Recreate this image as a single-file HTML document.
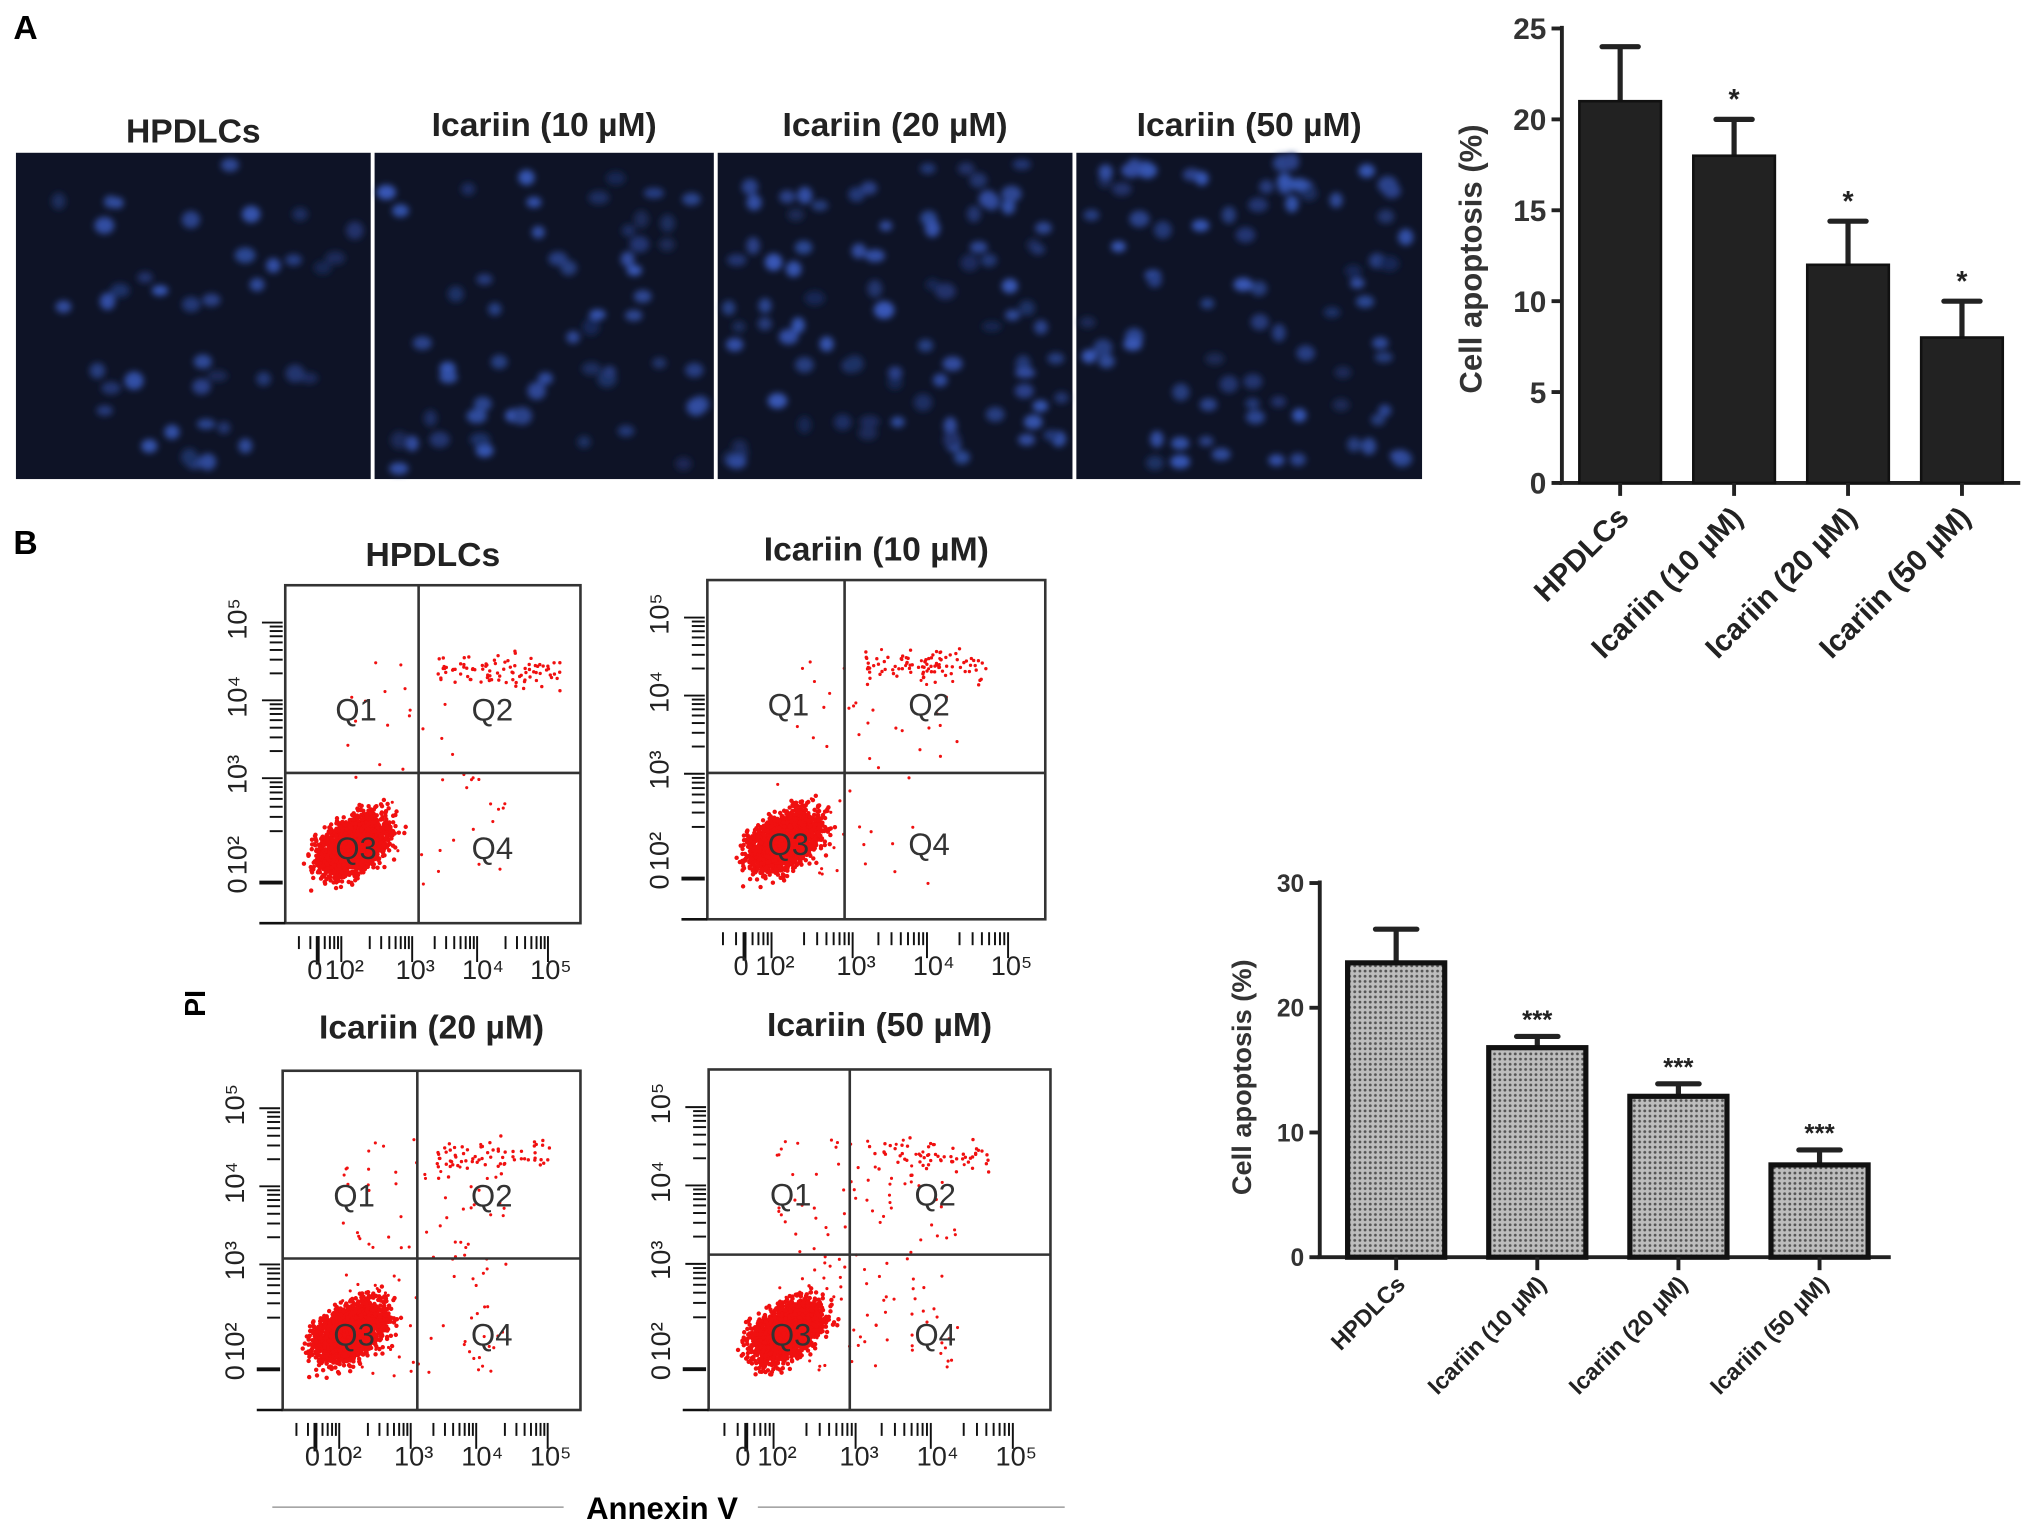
<!DOCTYPE html>
<html><head><meta charset="utf-8"><style>
html,body{margin:0;padding:0;background:#fff}
svg{display:block}
text{font-family:"Liberation Sans",Arial,sans-serif}
</style></head><body>
<svg id="fig" width="2031" height="1533" viewBox="0 0 1568 1184" xmlns="http://www.w3.org/2000/svg">
<defs>
<pattern id="dots" width="4" height="4" patternUnits="userSpaceOnUse"><rect width="4" height="4" fill="#bdbdbd"/><circle cx="2" cy="2" r="1.1" fill="#555"/></pattern>
<filter id="blur"><feGaussianBlur stdDeviation="2.4"/></filter>
</defs>
<text x="10" y="30" font-size="26" font-weight="bold">A</text>
<text x="10" y="428" font-size="26" font-weight="bold">B</text>
<g id="micro"></g>
<g id="chartA"></g>
<g id="flow"></g>
<g id="chartB"></g>
<text x="158" y="775" font-size="22" font-weight="bold" transform="rotate(-90 158 775)" text-anchor="middle">PI</text>
<line x1="210" y1="1164" x2="435" y2="1164" stroke="#888" stroke-width="1"/>
<line x1="585" y1="1164" x2="822" y2="1164" stroke="#888" stroke-width="1"/>
<text x="511" y="1173" font-size="24" font-weight="bold" text-anchor="middle">Annexin V</text>
</svg>
<script>
const NS="http://www.w3.org/2000/svg";
function mk(p,t,a){const e=document.createElementNS(NS,t);for(const k in a)e.setAttribute(k,a[k]);p.appendChild(e);return e;}
let seed=12345;function rnd(){seed=(seed*1103515245+12345)%2147483648;return seed/2147483648;}
function gauss(){return (rnd()+rnd()+rnd()+rnd()-2)/1.2;}

// Chart A data
const catsA=["HPDLCs","Icariin (10 µM)","Icariin (20 µM)","Icariin (50 µM)"];
const valsA=[21,18,12,8];
const errA=[3,2,2.4,2];
const starsA=["","*","*","*"];
const ticksA=[0,5,10,15,20,25];
// Chart B data
const catsB=["HPDLCs","Icariin (10 µM)","Icariin (20 µM)","Icariin (50 µM)"];
const valsB=[23.6,16.8,12.9,7.4];
const errB=[2.7,0.9,1.0,1.2];
const starsB=["","***","***","***"];
const ticksB=[0,10,20,30];

// Microscopy
const micro=document.getElementById('micro');
const mTitles=["HPDLCs","Icariin (10 µM)","Icariin (20 µM)","Icariin (50 µM)"];
const mX=[[12,286],[289,551],[554,828],[831,1098]];
const mCounts=[40,55,85,80];
mX.forEach((r,i)=>{
  const g=mk(micro,'g',{});
  
  
  mk(g,'rect',{x:r[0],y:118,width:r[1]-r[0],height:252,fill:'#0e1326'});
  const dg=mk(g,'g',{filter:'url(#blur)'});
  for(let k=0;k<mCounts[i];k++){
    const cx=r[0]+8+rnd()*(r[1]-r[0]-16), cy=124+rnd()*240;
    const b=0.35+rnd()*0.45;
    mk(dg,'ellipse',{cx:cx,cy:cy,rx:5+rnd()*3,ry:4+rnd()*3,fill:`rgb(${Math.round(70*b)},${Math.round(110*b)},${Math.round(230*b)})`});
  }
  const t=mk(g,'text',{x:(r[0]+r[1])/2,y:i==0?110:105,'font-size':26,'font-weight':'bold','text-anchor':'middle',fill:'#222'});
  t.textContent=mTitles[i];
});

function barChart(gid,cats,vals,errs,stars,ticks,o){
  const g=document.getElementById(gid);
  const y=v=>o.y0-(v-ticks[0])/(ticks[ticks.length-1]-ticks[0])*(o.y0-o.y1);
  const x=i=>o.xs+i*o.step;
  mk(g,'line',{x1:o.ax,y1:o.y1-2,x2:o.ax,y2:o.y0,stroke:'#222','stroke-width':3});
  mk(g,'line',{x1:o.ax-2,y1:o.y0,x2:o.xe,y2:o.y0,stroke:'#222','stroke-width':3});
  ticks.forEach(t=>{
    const l=mk(g,'line',{x1:o.ax-8,y1:y(t),x2:o.ax,y2:y(t),stroke:'#222','stroke-width':3});
    
    
    const tx=mk(g,'text',{x:o.ax-12,y:y(t)+o.fs*0.36,'font-size':o.fs,'font-weight':'bold','text-anchor':'end',fill:'#333'});
    
    
    tx.textContent=t;
  });
  cats.forEach((c,i)=>{
    const cx=x(i);
    const eb=mk(g,'path',{d:`M${cx} ${y(vals[i])}V${y(vals[i]+errs[i])}M${cx-o.cap} ${y(vals[i]+errs[i])}H${cx+o.cap}`,stroke:'#222','stroke-width':4,fill:'none','stroke-linecap':'round'});
    
    
    const b=mk(g,'rect',{x:cx-o.bw/2,y:y(vals[i]),width:o.bw,height:o.y0-y(vals[i]),fill:o.fill,stroke:'#111','stroke-width':o.sw});
    
    
    mk(g,'line',{x1:cx,y1:o.y0,x2:cx,y2:o.y0+10,stroke:'#222','stroke-width':3});
    if(stars[i]){
      const s=mk(g,'text',{x:cx,y:y(vals[i]+errs[i])-o.starOff,'font-size':o.starFs,'font-weight':'bold','text-anchor':'middle',fill:'#222'});
      
      
      s.textContent=stars[i];
    }
    const lx=cx+o.lblDx, ly=o.y0+o.lblDy;
    const t=mk(g,'text',{x:lx,y:ly,'font-size':o.lfs,'font-weight':'bold','text-anchor':'end',fill:'#222',transform:`rotate(-45 ${lx} ${ly})`});
    
    
    t.textContent=c;
  });
  const tt=mk(g,'text',{x:o.tx,y:o.ty,'font-size':o.tfs,'font-weight':'bold','text-anchor':'middle',fill:'#333',transform:`rotate(-90 ${o.tx} ${o.ty})`});
  
  
  tt.textContent="Cell apoptosis (%)";
}
barChart('chartA',catsA,valsA,errA,starsA,ticksA,{ax:1206,y0:373,y1:22,xs:1251,step:88,xe:1560,bw:63,cap:14,fill:'#222',sw:2,fs:23,lfs:23,starFs:22,starOff:8,lblDx:8,lblDy:28,tx:1144,ty:200,tfs:24});
barChart('chartB',catsB,valsB,errB,starsB,ticksB,{ax:1019,y0:971,y1:682,xs:1078,step:109,xe:1460,bw:75,cap:16,fill:'url(#dots)',sw:4,fs:19,lfs:18,starFs:20,starOff:6,lblDx:8,lblDy:22,tx:966,ty:832,tfs:21});

// Flow panels
const flow=document.getElementById('flow');
const fp=[
 {t:"HPDLCs",x0:220,x1:448,y0:452,y1:713,vx:323,hy:597,ty:437,q2:90,sc:40},
 {t:"Icariin (10 µM)",x0:546,x1:807,y0:448,y1:710,vx:652,hy:597,ty:433,q2:90,sc:60},
 {t:"Icariin (20 µM)",x0:218,x1:448,y0:827,y1:1089,vx:322,hy:972,ty:802,q2:70,sc:110},
 {t:"Icariin (50 µM)",x0:547,x1:811,y0:826,y1:1089,vx:656,hy:969,ty:800,q2:60,sc:140}
];
fp.forEach((p,i)=>{
  const g=mk(flow,'g',{});
  
  
  const tt=mk(g,'text',{x:(p.x0+p.x1)/2,y:p.ty,'font-size':26,'font-weight':'bold','text-anchor':'middle',fill:'#222'});
  tt.textContent=p.t;
  mk(g,'rect',{x:p.x0,y:p.y0,width:p.x1-p.x0,height:p.y1-p.y0,fill:'#fff',stroke:'#333','stroke-width':2});
  const w=p.x1-p.x0,h=p.y1-p.y0;
  const cx=p.x0+w*0.23, cy=p.y0+h*0.77;
  const dg=mk(g,'g',{fill:'#f01010'});
  for(let k=0;k<2200;k++){
    const a=gauss(),b=gauss();
    mk(dg,'circle',{cx:cx+a*26+b*8,cy:cy-a*16+b*17,r:1.7});
  }
  for(let k=0;k<p.q2;k++) mk(dg,'circle',{cx:p.vx+15+rnd()*95,cy:p.y0+h*0.27+gauss()*12-rnd()*8,r:1.3});
  for(let k=0;k<p.sc;k++){
    const xx=p.x0+w*0.2+rnd()*w*0.55, yy=p.y0+h*0.2+rnd()*h*0.7;
    mk(dg,'circle',{cx:xx,cy:yy,r:1.2});
  }
  mk(g,'line',{x1:p.vx,y1:p.y0,x2:p.vx,y2:p.y1,stroke:'#333','stroke-width':2});
  mk(g,'line',{x1:p.x0,y1:p.hy,x2:p.x1,y2:p.hy,stroke:'#333','stroke-width':2});
  [["Q1",p.x0+w*0.24,p.y0+h*0.4],["Q2",p.vx+w*0.25,p.y0+h*0.4],["Q3",p.x0+w*0.24,p.y0+h*0.81],["Q4",p.vx+w*0.25,p.y0+h*0.81]].forEach(q=>{
    const t=mk(g,'text',{x:q[1],y:q[2],'font-size':24,'text-anchor':'middle',fill:'#333'});
    
    
    t.textContent=q[0];
  });
  const ax=mk(g,'g',{stroke:'#111','stroke-width':1.5});
  const dec=[p.x0+w*0.2,p.x0+w*0.44,p.x0+w*0.66,p.x0+w*0.9];
  for(let d=0;d<4;d++){
    for(let m=2;m<10;m++){const xx=dec[d]-(w*0.22)*(1-Math.log10(m));mk(ax,'line',{x1:xx,y1:p.y1+10,x2:xx,y2:p.y1+(m==9?30:20)});}
  }
  mk(ax,'line',{x1:p.x0+w*0.11,y1:p.y1+10,x2:p.x0+w*0.11,y2:p.y1+32,'stroke-width':3});
  const labs=["0","10²","10³","10⁴","10⁵"];
  const lx=[p.x0+w*0.1,p.x0+w*0.2,p.x0+w*0.44,p.x0+w*0.67,p.x0+w*0.9];
  labs.forEach((l,k)=>{const t=mk(g,'text',{x:lx[k],y:p.y1+43,'font-size':21,'text-anchor':'middle',fill:'#222'});t.textContent=l;});
  const ydec=[p.y0+h*0.8,p.y0+h*0.56,p.y0+h*0.33,p.y0+h*0.1];
  for(let d=0;d<3;d++) for(let m=2;m<10;m++){const yy=ydec[d]-(ydec[d]-ydec[d+1])*Math.log10(m);mk(ax,'line',{x1:p.x0-(m==9?18:12),y1:yy,x2:p.x0-2,y2:yy});}
  mk(ax,'line',{x1:p.x0-20,y1:p.y0+h*0.88,x2:p.x0-2,y2:p.y0+h*0.88,'stroke-width':3});
  mk(ax,'line',{x1:p.x0-20,y1:p.y1,x2:p.x0,y2:p.y1,'stroke-width':2});
  const ylabs=["0","10²","10³","10⁴","10⁵"];
  const yy=[p.y0+h*0.89,p.y0+h*0.8,p.y0+h*0.56,p.y0+h*0.33,p.y0+h*0.1];
  ylabs.forEach((l,k)=>{const x=p.x0-30;const t=mk(g,'text',{x:x,y:yy[k],'font-size':21,'text-anchor':'middle',fill:'#222',transform:`rotate(-90 ${x} ${yy[k]})`});t.textContent=l;});
});
</script>
</body></html>
